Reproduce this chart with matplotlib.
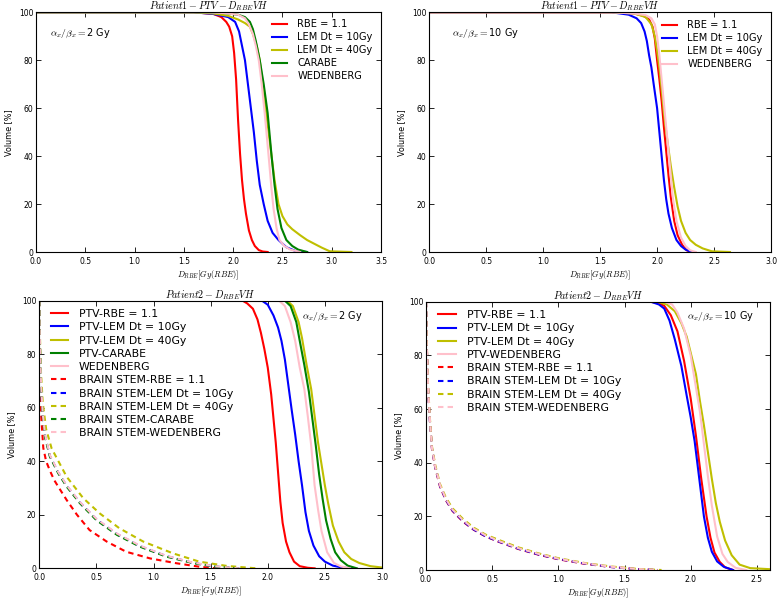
import matplotlib
matplotlib.use('Agg')
import matplotlib.pyplot as plt

plt.rcParams['mathtext.fontset'] = 'cm'
plt.rcParams['font.family'] = 'DejaVu Sans'

# Patient 1, alpha/beta = 2 Gy
p1a_rbe_d = [0, 1.6, 1.8, 1.88, 1.93, 1.96, 1.99, 2.01, 2.03, 2.05, 2.07, 2.09, 2.11, 2.13, 2.16, 2.19, 2.22, 2.26, 2.3, 2.35]
p1a_rbe_v = [100, 100, 99.3, 98, 96, 94, 90, 83, 72, 55, 41, 30, 22, 16, 9, 5, 2.5, 0.8, 0.2, 0]
p1a_lem10_d = [0, 1.6, 1.8, 1.95, 2.02, 2.06, 2.09, 2.12, 2.15, 2.18, 2.21, 2.24, 2.27, 2.31, 2.35, 2.4, 2.46, 2.54, 2.64, 2.75]
p1a_lem10_v = [100, 100, 99.3, 98, 96, 92, 86, 80, 70, 60, 50, 38, 28, 20, 13, 8, 5, 2, 0.3, 0]
p1a_lem40_d = [0, 1.6, 1.8, 1.95, 2.05, 2.12, 2.17, 2.2, 2.24, 2.27, 2.3, 2.33, 2.36, 2.39, 2.42, 2.46, 2.5, 2.55, 2.6, 2.68, 2.75, 2.82, 2.9, 2.98, 3.2]
p1a_lem40_v = [100, 100, 99.5, 98.5, 97, 95.5, 94, 91, 86, 80, 70, 60, 50, 40, 30, 20, 15, 11.5, 9.5, 7, 5, 3.5, 1.8, 0.3, 0]
p1a_carabe_d = [0, 1.7, 1.9, 2.05, 2.12, 2.17, 2.2, 2.23, 2.27, 2.31, 2.35, 2.39, 2.42, 2.45, 2.49, 2.54, 2.6, 2.66, 2.75]
p1a_carabe_v = [100, 100, 99.7, 99, 98, 96, 93, 88, 80, 70, 58, 40, 28, 18, 10, 5, 2.5, 1, 0]
p1a_wed_d = [0, 1.7, 1.9, 2.05, 2.12, 2.16, 2.2, 2.23, 2.26, 2.29, 2.32, 2.36, 2.39, 2.41, 2.44, 2.47, 2.52, 2.58, 2.68]
p1a_wed_v = [100, 100, 99.7, 99, 97.5, 95, 91, 86, 80, 70, 58, 40, 26, 18, 10, 5, 2.5, 1, 0]

# Patient 1, alpha/beta = 10 Gy
p1b_rbe_d = [0, 1.6, 1.8, 1.88, 1.93, 1.96, 1.98, 2.0, 2.02, 2.04, 2.06, 2.08, 2.1, 2.12, 2.15, 2.18, 2.22, 2.26, 2.3]
p1b_rbe_v = [100, 100, 99.5, 98.5, 97, 94, 89, 80, 72, 63, 52, 42, 32, 23, 13, 7, 3, 0.7, 0]
p1b_lem10_d = [0, 1.6, 1.75, 1.82, 1.86, 1.89, 1.91, 1.93, 1.95, 1.97, 2.0, 2.02, 2.04, 2.06, 2.08, 2.1, 2.13, 2.17, 2.21, 2.25, 2.3]
p1b_lem10_v = [100, 100, 99, 97.5, 95.5, 92, 88, 82, 77, 70, 60, 50, 40, 30, 22, 16, 10, 5, 2.5, 1, 0]
p1b_lem40_d = [0, 1.6, 1.8, 1.9, 1.95, 1.98, 2.0, 2.02, 2.04, 2.06, 2.08, 2.1, 2.12, 2.15, 2.18, 2.21, 2.25, 2.29, 2.34, 2.4, 2.48, 2.64]
p1b_lem40_v = [100, 100, 99.5, 98, 95, 90, 84, 77, 68, 58, 50, 43, 36, 27, 19, 13, 8, 5, 3, 1.5, 0.3, 0]
p1b_wed_d = [0, 1.6, 1.8, 1.9, 1.95, 1.98, 2.0, 2.02, 2.04, 2.06, 2.08, 2.1, 2.12, 2.14, 2.17, 2.21, 2.25, 2.29, 2.34]
p1b_wed_v = [100, 100, 99.5, 98.8, 97.5, 95, 90, 82, 72, 62, 52, 42, 32, 22, 13, 6, 2.5, 0.7, 0]

# Patient 2, alpha/beta = 2 Gy (PTV)
p2a_rbe_d = [0, 1.78, 1.82, 1.87, 1.91, 1.94, 1.97, 2.0, 2.03, 2.05, 2.07, 2.09, 2.11, 2.13, 2.16, 2.19, 2.23, 2.28, 2.35, 2.41]
p2a_rbe_v = [100, 100, 99, 97, 93, 88, 82, 75, 65, 56, 47, 36, 25, 17, 10, 6, 2.5, 0.8, 0.2, 0]
p2a_lem10_d = [0, 1.9, 1.95, 2.0, 2.05, 2.09, 2.12, 2.15, 2.18, 2.21, 2.24, 2.27, 2.3, 2.33, 2.36, 2.4, 2.45, 2.5, 2.57, 2.65, 2.75]
p2a_lem10_v = [100, 100, 100, 98.5, 94.5, 90, 85, 78, 68.5, 59, 50, 40, 31, 21, 14, 8.5, 4.5, 2.5, 1, 0.3, 0]
p2a_lem40_d = [0, 2.17, 2.22, 2.27, 2.3, 2.34, 2.38, 2.41, 2.44, 2.47, 2.5, 2.53, 2.57, 2.62, 2.67, 2.73, 2.8, 2.9, 3.0]
p2a_lem40_v = [100, 100, 98, 92, 86, 76, 67, 57, 47, 39, 31, 24, 16, 10, 6, 3.5, 2, 0.8, 0.3]
p2a_carabe_d = [0, 2.15, 2.2, 2.25, 2.28, 2.32, 2.36, 2.39, 2.42, 2.45, 2.48, 2.51, 2.55, 2.59, 2.64, 2.7, 2.78]
p2a_carabe_v = [100, 100, 98, 92, 85, 76, 66, 56, 46, 35, 26, 18, 11, 6, 3, 1, 0]
p2a_wed_d = [0, 2.1, 2.15, 2.2, 2.24, 2.28, 2.32, 2.35, 2.38, 2.41, 2.44, 2.47, 2.52, 2.58, 2.64, 2.72]
p2a_wed_v = [100, 100, 98, 92, 85, 75, 67, 57, 46, 31, 22, 14, 6, 2, 0.7, 0]

# Patient 2, alpha/beta = 2 Gy (brain stem)
p2a_bs_rbe_d = [0, 0.005, 0.015, 0.035, 0.06, 0.093, 0.13, 0.166, 0.24, 0.33, 0.44, 0.59, 0.76, 0.97, 1.2, 1.4, 1.55]
p2a_bs_rbe_v = [100, 78, 58, 45, 40, 36.5, 33, 30.5, 25.5, 20, 14.3, 10, 6.2, 3.7, 1.9, 0.6, 0]
p2a_bs_lem10_d = [0, 0.005, 0.015, 0.03, 0.05, 0.093, 0.166, 0.24, 0.356, 0.5, 0.68, 0.88, 1.11, 1.35, 1.55, 1.75]
p2a_bs_lem10_v = [100, 85, 68, 57, 49.5, 42, 35.8, 30.8, 24.6, 18.3, 12.8, 8.3, 4.6, 2.0, 0.6, 0]
p2a_bs_lem40_d = [0, 0.005, 0.015, 0.03, 0.06, 0.108, 0.24, 0.385, 0.53, 0.7, 0.91, 1.17, 1.4, 1.64, 1.9]
p2a_bs_lem40_v = [100, 88, 73, 62, 52, 44.8, 34.2, 26.2, 20.5, 15, 10, 5.6, 2.5, 0.9, 0]
p2a_bs_carabe_d = [0, 0.005, 0.015, 0.03, 0.05, 0.093, 0.166, 0.24, 0.356, 0.5, 0.68, 0.88, 1.11, 1.35, 1.55, 1.75]
p2a_bs_carabe_v = [100, 85, 68, 57, 49, 41.7, 35.5, 30.5, 24.3, 18, 12.5, 8.1, 4.4, 1.9, 0.6, 0]
p2a_bs_wed_d = [0, 0.005, 0.015, 0.03, 0.05, 0.093, 0.166, 0.24, 0.356, 0.5, 0.68, 0.88, 1.11, 1.35, 1.55, 1.75]
p2a_bs_wed_v = [100, 86, 69, 58, 50, 42.3, 36, 31, 24.8, 18.5, 13, 8.5, 4.7, 2.1, 0.7, 0]

# Patient 2, alpha/beta = 10 Gy (PTV)
p2b_rbe_d = [0, 1.7, 1.76, 1.8, 1.85, 1.9, 1.95, 2.0, 2.04, 2.08, 2.12, 2.15, 2.18, 2.22, 2.26, 2.32]
p2b_rbe_v = [100, 100, 99.5, 98.5, 95, 89, 78, 64, 50, 34, 20, 12, 6.5, 3, 1, 0]
p2b_lem10_d = [0, 1.7, 1.76, 1.8, 1.84, 1.88, 1.93, 1.97, 2.0, 2.03, 2.07, 2.1, 2.13, 2.16, 2.2, 2.25, 2.32]
p2b_lem10_v = [100, 100, 99, 97.5, 93, 86, 76, 65, 57, 48, 32, 20, 12, 6.8, 3.2, 1.2, 0]
p2b_lem40_d = [0, 1.75, 1.82, 1.88, 1.93, 1.97, 2.0, 2.04, 2.07, 2.1, 2.13, 2.16, 2.19, 2.22, 2.26, 2.31, 2.37, 2.45, 2.6]
p2b_lem40_v = [100, 100, 99, 96.5, 92, 87, 81, 73, 63, 54, 44, 34, 25, 18, 11, 5.5, 2, 0.7, 0.3]
p2b_wed_d = [0, 1.8, 1.86, 1.9, 1.95, 2.0, 2.04, 2.07, 2.1, 2.13, 2.16, 2.2, 2.24, 2.28, 2.34, 2.42]
p2b_wed_v = [100, 100, 99, 96, 90, 80, 68, 59, 47, 35, 24, 12.5, 6, 3, 0.8, 0]

# Patient 2, alpha/beta = 10 Gy (brain stem)
p2b_bs_rbe_d = [0, 0.005, 0.015, 0.03, 0.045, 0.07, 0.106, 0.15, 0.2, 0.28, 0.36, 0.45, 0.55, 0.7, 0.85, 1.0, 1.2, 1.4, 1.6, 1.75]
p2b_bs_rbe_v = [100, 85, 68, 55, 45, 38, 31, 26, 22, 18, 15, 12.5, 10.5, 7.8, 5.7, 4, 2.3, 1.1, 0.3, 0]
p2b_bs_lem10_d = [0, 0.005, 0.015, 0.03, 0.045, 0.07, 0.106, 0.15, 0.2, 0.28, 0.36, 0.45, 0.55, 0.7, 0.85, 1.0, 1.2, 1.4, 1.6, 1.75]
p2b_bs_lem10_v = [100, 85, 68, 55, 45.3, 38.3, 31.3, 26.2, 22.2, 18.2, 15.1, 12.6, 10.6, 7.9, 5.8, 4.1, 2.4, 1.1, 0.3, 0]
p2b_bs_lem40_d = [0, 0.005, 0.015, 0.03, 0.045, 0.07, 0.106, 0.15, 0.2, 0.28, 0.36, 0.45, 0.55, 0.7, 0.85, 1.0, 1.2, 1.4, 1.6, 1.78]
p2b_bs_lem40_v = [100, 86, 69, 56, 46, 39, 32, 27, 23, 19, 15.8, 13.2, 11.2, 8.4, 6.2, 4.4, 2.6, 1.3, 0.4, 0]
p2b_bs_wed_d = [0, 0.005, 0.015, 0.03, 0.045, 0.07, 0.106, 0.15, 0.2, 0.28, 0.36, 0.45, 0.55, 0.7, 0.85, 1.0, 1.2, 1.4, 1.6, 1.75]
p2b_bs_wed_v = [100, 85, 68.5, 55.5, 45.5, 38.5, 31.6, 26.5, 22.5, 18.5, 15.4, 12.9, 10.8, 8.1, 6.0, 4.2, 2.5, 1.2, 0.35, 0]

lbl_rbe = 'RBE = 1.1'
lbl_lem10 = 'LEM Dt = 10Gy'
lbl_lem40 = 'LEM Dt = 40Gy'
lbl_carabe = 'CARABE'
lbl_wed = 'WEDENBERG'

title_p1 = r'$Patient1-PTV-D_{RBE}VH$'
title_p2 = r'$Patient2-D_{RBE}VH$'
xlab = r'$D_{RBE}[Gy(RBE)]$'
ylab = 'Volume [%]'

LW = 1.5
DASH = (0, (2.6, 2.0))
C_Y = (0.75, 0.75, 0)
C_G = (0, 0.5, 0)


def style_axes(ax, xmax, xticks):
    ax.set_xlim(0, xmax)
    ax.set_ylim(0, 100)
    ax.set_xticks(xticks)
    ax.set_yticks([0, 20, 40, 60, 80, 100])
    ax.set_xticklabels(['%.1f' % t for t in xticks])
    ax.tick_params(direction='in', top=True, right=True, length=3.5, width=0.6,
                   labelsize=5.5, pad=2)
    ax.tick_params(axis='x', pad=3.5)
    for s in ax.spines.values():
        s.set_linewidth(0.8)
    ax.set_xlabel(xlab, fontsize=6.0, labelpad=2)
    ax.set_ylabel(ylab, fontsize=5.8, labelpad=4)


fig = plt.figure(figsize=(7.78, 6.0), dpi=100)
fig.patch.set_facecolor('white')

# Panel 1 : patient 1, 2 Gy
ax1 = fig.add_axes([0.0463, 0.58, 0.4434, 0.3995])
ax1.plot(p1a_rbe_d, p1a_rbe_v, color='r', lw=LW, label=lbl_rbe)
ax1.plot(p1a_lem10_d, p1a_lem10_v, color='b', lw=LW, label=lbl_lem10)
ax1.plot(p1a_lem40_d, p1a_lem40_v, color=C_Y, lw=LW, label=lbl_lem40)
ax1.plot(p1a_carabe_d, p1a_carabe_v, color=C_G, lw=LW, label=lbl_carabe)
ax1.plot(p1a_wed_d, p1a_wed_v, color='pink', lw=LW, label=lbl_wed)
style_axes(ax1, 3.5, [0, 0.5, 1.0, 1.5, 2.0, 2.5, 3.0, 3.5])
ax1.set_title(title_p1, fontsize=7.2, pad=2)
ax1.text(0.04, 0.91, r'$\alpha_x/\beta_x=$2 Gy', transform=ax1.transAxes,
         fontsize=7.0, va='center')
ax1.legend(loc='upper left', bbox_to_anchor=(0.683, 0.97), frameon=False,
           fontsize=7.1, borderaxespad=0, borderpad=0, handlelength=1.6,
           handletextpad=1.0, labelspacing=0.3)

# Panel 2 : patient 1, 10 Gy
ax2 = fig.add_axes([0.5518, 0.58, 0.4392, 0.3995])
ax2.plot(p1b_rbe_d, p1b_rbe_v, color='r', lw=LW, label=lbl_rbe)
ax2.plot(p1b_lem10_d, p1b_lem10_v, color='b', lw=LW, label=lbl_lem10)
ax2.plot(p1b_lem40_d, p1b_lem40_v, color=C_Y, lw=LW, label=lbl_lem40)
ax2.plot(p1b_wed_d, p1b_wed_v, color='pink', lw=LW, label=lbl_wed)
style_axes(ax2, 3.0, [0, 0.5, 1.0, 1.5, 2.0, 2.5, 3.0])
ax2.set_title(title_p1, fontsize=7.2, pad=2)
ax2.text(0.066, 0.91, r'$\alpha_x/\beta_x=$10 Gy', transform=ax2.transAxes,
         fontsize=7.0, va='center')
ax2.legend(loc='upper left', bbox_to_anchor=(0.68, 0.967), frameon=False,
           fontsize=7.1, borderaxespad=0, borderpad=0, handlelength=1.6,
           handletextpad=1.0, labelspacing=0.3)

# Panel 3 : patient 2, 2 Gy
ax3 = fig.add_axes([0.0505, 0.0528, 0.4405, 0.446])
ax3.plot(p2a_rbe_d, p2a_rbe_v, color='r', lw=LW, label='PTV-' + lbl_rbe)
ax3.plot(p2a_lem10_d, p2a_lem10_v, color='b', lw=LW, label='PTV-' + lbl_lem10)
ax3.plot(p2a_lem40_d, p2a_lem40_v, color=C_Y, lw=LW, label='PTV-' + lbl_lem40)
ax3.plot(p2a_carabe_d, p2a_carabe_v, color=C_G, lw=LW, label='PTV-' + lbl_carabe)
ax3.plot(p2a_wed_d, p2a_wed_v, color='pink', lw=LW, label=lbl_wed)
ax3.plot(p2a_bs_rbe_d, p2a_bs_rbe_v, color='r', lw=LW, ls=DASH, label='BRAIN STEM-' + lbl_rbe)
ax3.plot(p2a_bs_lem10_d, p2a_bs_lem10_v, color='b', lw=LW, ls=DASH, label='BRAIN STEM-' + lbl_lem10)
ax3.plot(p2a_bs_lem40_d, p2a_bs_lem40_v, color=C_Y, lw=LW, ls=DASH, label='BRAIN STEM-' + lbl_lem40)
ax3.plot(p2a_bs_carabe_d, p2a_bs_carabe_v, color=C_G, lw=LW, ls=DASH, label='BRAIN STEM-' + lbl_carabe)
ax3.plot(p2a_bs_wed_d, p2a_bs_wed_v, color='pink', lw=LW, ls=DASH, label='BRAIN STEM-' + lbl_wed)
style_axes(ax3, 3.0, [0, 0.5, 1.0, 1.5, 2.0, 2.5, 3.0])
ax3.set_title(title_p2, fontsize=7.2, pad=2)
ax3.text(0.766, 0.943, r'$\alpha_x/\beta_x=$2 Gy', transform=ax3.transAxes,
         fontsize=7.0, va='center')
ax3.legend(loc='upper left', bbox_to_anchor=(0.033, 0.969), frameon=False,
           fontsize=7.8, borderaxespad=0, borderpad=0, handlelength=1.6,
           handletextpad=1.0, labelspacing=0.3)

# Panel 4 : patient 2, 10 Gy
ax4 = fig.add_axes([0.5476, 0.05, 0.4422, 0.447])
ax4.plot(p2b_rbe_d, p2b_rbe_v, color='r', lw=LW, label='PTV-' + lbl_rbe)
ax4.plot(p2b_lem10_d, p2b_lem10_v, color='b', lw=LW, label='PTV-' + lbl_lem10)
ax4.plot(p2b_lem40_d, p2b_lem40_v, color=C_Y, lw=LW, label='PTV-' + lbl_lem40)
ax4.plot(p2b_wed_d, p2b_wed_v, color='pink', lw=LW, label='PTV-' + lbl_wed)
ax4.plot(p2b_bs_rbe_d, p2b_bs_rbe_v, color='r', lw=LW, ls=DASH, label='BRAIN STEM-' + lbl_rbe)
ax4.plot(p2b_bs_lem10_d, p2b_bs_lem10_v, color='b', lw=LW, ls=DASH, label='BRAIN STEM-' + lbl_lem10)
ax4.plot(p2b_bs_lem40_d, p2b_bs_lem40_v, color=C_Y, lw=LW, ls=DASH, label='BRAIN STEM-' + lbl_lem40)
ax4.plot(p2b_bs_wed_d, p2b_bs_wed_v, color='pink', lw=LW, ls=DASH, label='BRAIN STEM-' + lbl_wed)
style_axes(ax4, 2.6, [0, 0.5, 1.0, 1.5, 2.0, 2.5])
ax4.set_title(title_p2, fontsize=7.2, pad=2)
ax4.text(0.758, 0.944, r'$\alpha_x/\beta_x=$10 Gy', transform=ax4.transAxes,
         fontsize=7.0, va='center')
ax4.legend(loc='upper left', bbox_to_anchor=(0.036, 0.969), frameon=False,
           fontsize=7.8, borderaxespad=0, borderpad=0, handlelength=1.6,
           handletextpad=1.0, labelspacing=0.3)

fig.savefig('out.png', dpi=100, facecolor='white')
